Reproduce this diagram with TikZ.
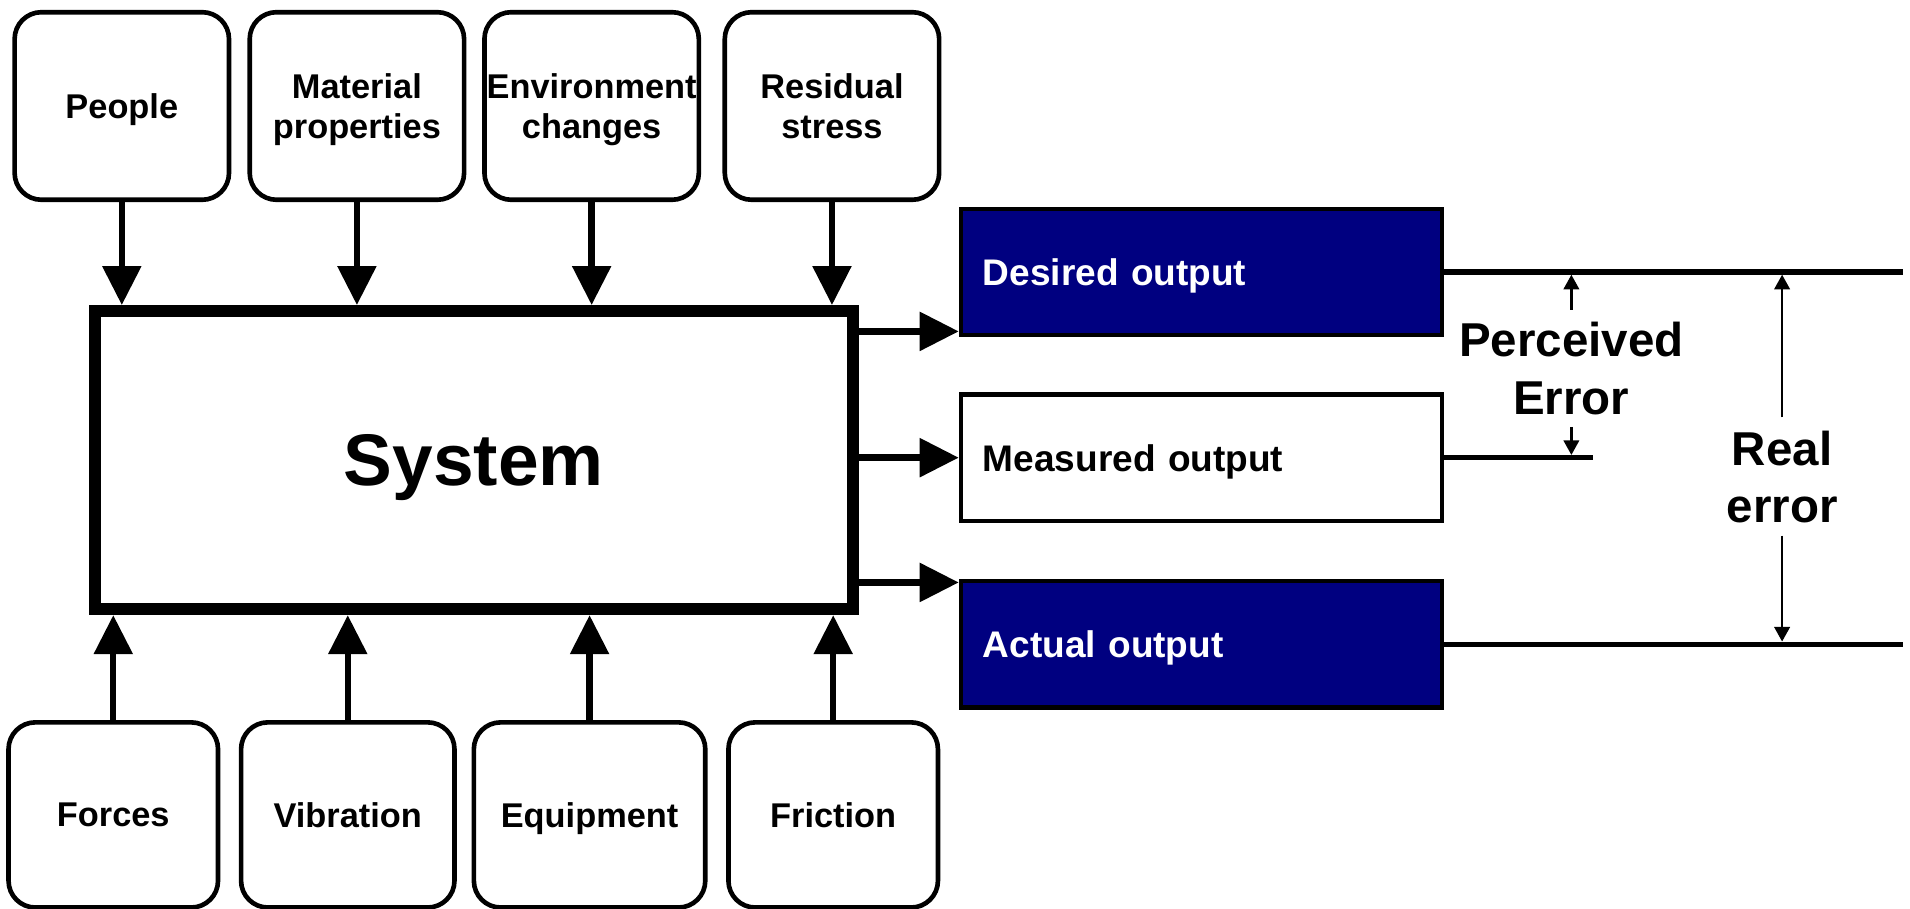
\documentclass[tikz,border=0pt]{standalone}
\usepackage{fontspec}
\setmainfont{Liberation Sans}
\usetikzlibrary{arrows.meta,calc}
\definecolor{navyfill}{HTML}{000080}

\begin{document}
\begin{tikzpicture}[x=0.5pt,y=-0.5pt,
  factor/.style={draw, line width=1.9pt, rounded corners=11pt,
    minimum width=88pt, minimum height=77pt, align=center,
    font=\fontsize{14.1}{16.5}\selectfont\bfseries, text depth=0pt,
    inner xsep=0pt, inner ysep=2pt},
  sysbox/.style={draw, line width=5pt, minimum width=311pt,
    minimum height=122.3pt, font=\fontsize{30}{36}\selectfont\bfseries,
    text depth=0pt},
  outbox/.style={draw, line width=1.85pt, text width=179.5pt, inner xsep=9pt,
    minimum height=51.9pt, align=left,
    font=\fontsize{15.2}{18}\selectfont\bfseries, text depth=0pt},
  darkout/.style={outbox, fill=navyfill, text=white},
  lightout/.style={outbox, fill=white},
  bigarrow/.style={line width=2.6pt, -{Triangle[width=15.5pt,length=16pt]}},
  gapline/.style={line width=2.2pt},
  errarrow/.style={line width=1.1pt, shorten >=1.1pt,
    -{Triangle[width=6.3pt,length=6pt]}},
  errlabel/.style={align=center, font=\fontsize{19.5}{23.5}\selectfont\bfseries,
    text depth=0pt, inner sep=5pt}
]
\useasboundingbox (0,0) rectangle (1568,746);
\clip (0,0) rectangle (1568,746);

% influences from above
\node[factor] (people)  at (100,87)   {People};
\node[factor] (matprop) at (293,87)   {Material\\properties};
\node[factor] (envchg)  at (485.7,87) {Environment\\changes};
\node[factor] (resid)   at (683,87)   {Residual\\stress};

% the system itself
\node[sysbox] (sys) at (389,377.7) {System};

% influences from below
\node[factor, minimum width=86pt,   minimum height=76pt] (forces) at (93,669)    {Forces};
\node[factor, minimum width=87.6pt, minimum height=76pt] (vib)    at (285.5,669) {Vibration};
\node[factor, minimum width=95pt,   minimum height=76pt] (equip)  at (484,669)   {Equipment};
\node[factor, minimum width=86pt,   minimum height=76pt] (fric)   at (684,669)   {Friction};

\foreach \n in {people,matprop,envchg,resid}
  \draw[bigarrow] (\n.south) -- (\n.south |- sys.north);
\foreach \n in {forces,vib,equip,fric}
  \draw[bigarrow] (\n.north) -- (\n.north |- sys.south);

% outputs
\node[darkout]  (desired)  at (986.4,223.3) {Desired output};
\node[lightout] (measured) at (986.4,375.7) {Measured output};
\node[darkout]  (actual)   at (986.4,528.9) {Actual output};

\coordinate (desIn) at ($(desired.south west)+(0,-5)$);
\coordinate (actIn) at ($(actual.north west)+(0,3)$);
\draw[bigarrow] (sys.east |- desIn) -- (desIn);
\draw[bigarrow] (sys.east |- measured.west) -- (measured.west);
\draw[bigarrow] (sys.east |- actIn) -- (actIn);

% reference levels
\coordinate (rimR) at (1562,0);
\coordinate (measEnd) at (1308,0);
\draw[gapline] (desired.east) -- (desired.east -| rimR);
\draw[gapline] (actual.east) -- (actual.east -| rimR);
\draw[gapline] (measured.east) -- (measured.east -| measEnd);

% error spans
\node[errlabel] (perc) at (1290,302.3) {Perceived\\Error};
\draw[errarrow] (perc.north) -- (perc.north |- desired.east);
\draw[errarrow] (perc.south) -- (perc.south |- measured.east);

\node[errlabel, inner sep=5.25pt] (realerr) at (1463,391.2) {Real\\error};
\draw[errarrow] (realerr.north) -- (realerr.north |- desired.east);
\draw[errarrow] (realerr.south) -- (realerr.south |- actual.east);
\end{tikzpicture}
\end{document}
